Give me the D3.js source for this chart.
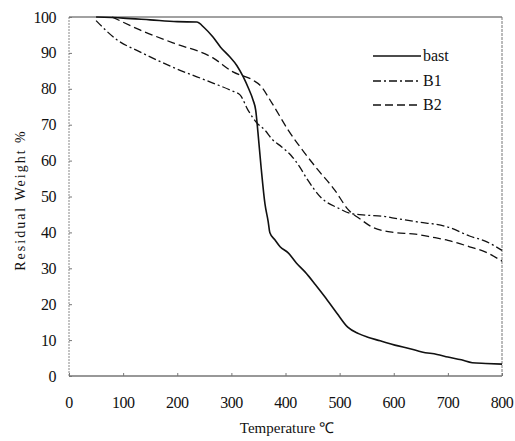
<!DOCTYPE html>
<html lang="en">
<head>
  <meta charset="UTF-8">
  <title>Residual Weight vs Temperature</title>
  <script src="https://d3js.org/d3.v7.min.js"></script>
  <style>
    body { margin: 0; background: #fff; }
    text { font-family: "Liberation Serif", "Times New Roman", serif; fill: #111; }
  </style>
</head>
<body>

<svg id="chart" width="515" height="441"></svg>

<script>
  // values
  var xTicks = [0, 100, 200, 300, 400, 500, 600, 700, 800];
  var yTicks = [0, 10, 20, 30, 40, 50, 60, 70, 80, 90, 100];

  var bastT = [50, 100, 150, 200, 236, 250, 266, 280, 297, 310, 322, 332, 340, 345, 349, 355, 362, 368, 371, 380, 390, 405, 420, 436, 455, 473, 495, 515, 535, 552, 575, 602, 630, 652, 680, 700, 725, 745, 770, 800];
  var bastW = [100, 99.7, 99.2, 98.7, 98.6, 97, 94.4, 91.6, 88.9, 86.5, 83.3, 80, 76.9, 74, 68, 58, 48, 43, 40, 38, 36, 34.3, 31.5, 29, 25.5, 22, 17.5, 13.6, 11.8, 10.8, 9.8, 8.6, 7.6, 6.7, 6, 5.3, 4.5, 3.7, 3.5, 3.3];

  var b1T = [50, 89, 131, 192, 266, 300, 316, 331, 347, 362, 375, 393, 410, 425, 441, 467, 497, 520, 550, 580, 600, 640, 700, 740, 770, 800];
  var b1W = [99, 93.6, 90.3, 86, 81.6, 79.5, 78.3, 74, 70.5, 68.5, 66, 63.8, 61.5, 58.5, 54.6, 49.5, 46.8, 45.3, 44.8, 44.5, 44, 43, 41.5, 39, 37.5, 35];

  var b2T = [80, 131, 192, 266, 303, 340, 353, 375, 405, 436, 460, 491, 515, 540, 560, 580, 600, 640, 670, 700, 740, 770, 800];
  var b2W = [100, 96.4, 92.8, 88.6, 84.7, 82.4, 81, 76, 68.5, 62, 57.4, 51.8, 46.5, 43.5, 41.5, 40.5, 40, 39.5, 38.7, 37.8, 36, 34.5, 32];

  var seriesNames = ['bast', 'B1', 'B2'];
  var seriesDash = ['none', '8,3,2,3', '8,4'];

  var series = [
    { name: seriesNames[0], t: bastT, w: bastW, dash: seriesDash[0], width: 1.6 },
    { name: seriesNames[1], t: b1T, w: b1W, dash: seriesDash[1], width: 1.3 },
    { name: seriesNames[2], t: b2T, w: b2W, dash: seriesDash[2], width: 1.3 }
  ];

  var svg = d3.select('#chart');
  var plotL = 69, plotR = 502, plotT = 17, plotB = 376;

  var x = d3.scaleLinear().domain([0, 800]).range([plotL, plotR]);
  var y = d3.scaleLinear().domain([0, 100]).range([plotB, plotT]);

  // frame
  svg.append('line').attr('x1', plotL).attr('x2', plotR).attr('y1', plotT).attr('y2', plotT)
    .attr('stroke', '#444').attr('stroke-width', 1);
  svg.append('line').attr('x1', plotL).attr('x2', plotR).attr('y1', plotB).attr('y2', plotB)
    .attr('stroke', '#333').attr('stroke-width', 1.2);
  svg.append('line').attr('x1', plotL).attr('x2', plotL).attr('y1', plotT).attr('y2', plotB)
    .attr('stroke', '#888').attr('stroke-width', 1).attr('stroke-dasharray', '2,1');
  svg.append('line').attr('x1', plotR).attr('x2', plotR).attr('y1', plotT).attr('y2', plotB)
    .attr('stroke', '#777').attr('stroke-width', 1).attr('stroke-dasharray', '3,1');

  // axes (inward ticks)
  var yAxis = svg.append('g').attr('transform', 'translate(' + plotL + ',0)')
    .call(d3.axisRight(y).tickValues(yTicks).tickSize(3).tickFormat(''));
  yAxis.select('.domain').remove();
  yAxis.selectAll('line').attr('stroke', '#777');

  var xAxis = svg.append('g').attr('transform', 'translate(0,' + plotB + ')')
    .call(d3.axisTop(x).tickValues(xTicks).tickSize(3).tickFormat(''));
  xAxis.select('.domain').remove();
  xAxis.selectAll('line').attr('stroke', '#777');

  svg.selectAll('.ylab').data(yTicks).enter().append('text')
    .attr('class', 'ylab')
    .attr('x', 56).attr('y', function (d) { return y(d) + 5.5; })
    .attr('text-anchor', 'end').attr('font-size', 16)
    .attr('letter-spacing', -0.5)
    .text(function (d) { return d; });

  svg.selectAll('.xlab').data(xTicks).enter().append('text')
    .attr('class', 'xlab')
    .attr('x', function (d) { return x(d); }).attr('y', 408)
    .attr('text-anchor', 'middle').attr('font-size', 16)
    .attr('letter-spacing', -0.5)
    .text(function (d) { return d; });

  svg.append('text')
    .attr('transform', 'translate(25,200) rotate(-90)')
    .attr('text-anchor', 'middle').attr('font-size', 14)
    .attr('font-family', '"Liberation Sans", Arial, sans-serif')
    .attr('letter-spacing', 2)
    .text('Residual Weight %');

  svg.append('text')
    .attr('x', 287).attr('y', 433)
    .attr('text-anchor', 'middle').attr('font-size', 15)
    .text('Temperature \u2103');

  // curves
  var line = d3.line()
    .x(function (d) { return x(d[0]); })
    .y(function (d) { return y(d[1]); })
    .curve(d3.curveMonotoneX);

  series.forEach(function (s) {
    var pts = s.t.map(function (t, i) { return [t, s.w[i]]; });
    svg.append('path')
      .datum(pts)
      .attr('d', line)
      .attr('fill', 'none')
      .attr('stroke', '#111')
      .attr('stroke-width', s.width)
      .attr('stroke-dasharray', s.dash);
  });

  // legend
  var legendY = [56, 81, 105];
  series.forEach(function (s, i) {
    svg.append('line')
      .attr('x1', 373).attr('x2', 421)
      .attr('y1', legendY[i]).attr('y2', legendY[i])
      .attr('stroke', '#111').attr('stroke-width', s.width)
      .attr('stroke-dasharray', s.dash);
    svg.append('text')
      .attr('x', 423).attr('y', legendY[i] + 5)
      .attr('font-size', 16)
      .text(s.name);
  });
</script>

</body>
</html>
